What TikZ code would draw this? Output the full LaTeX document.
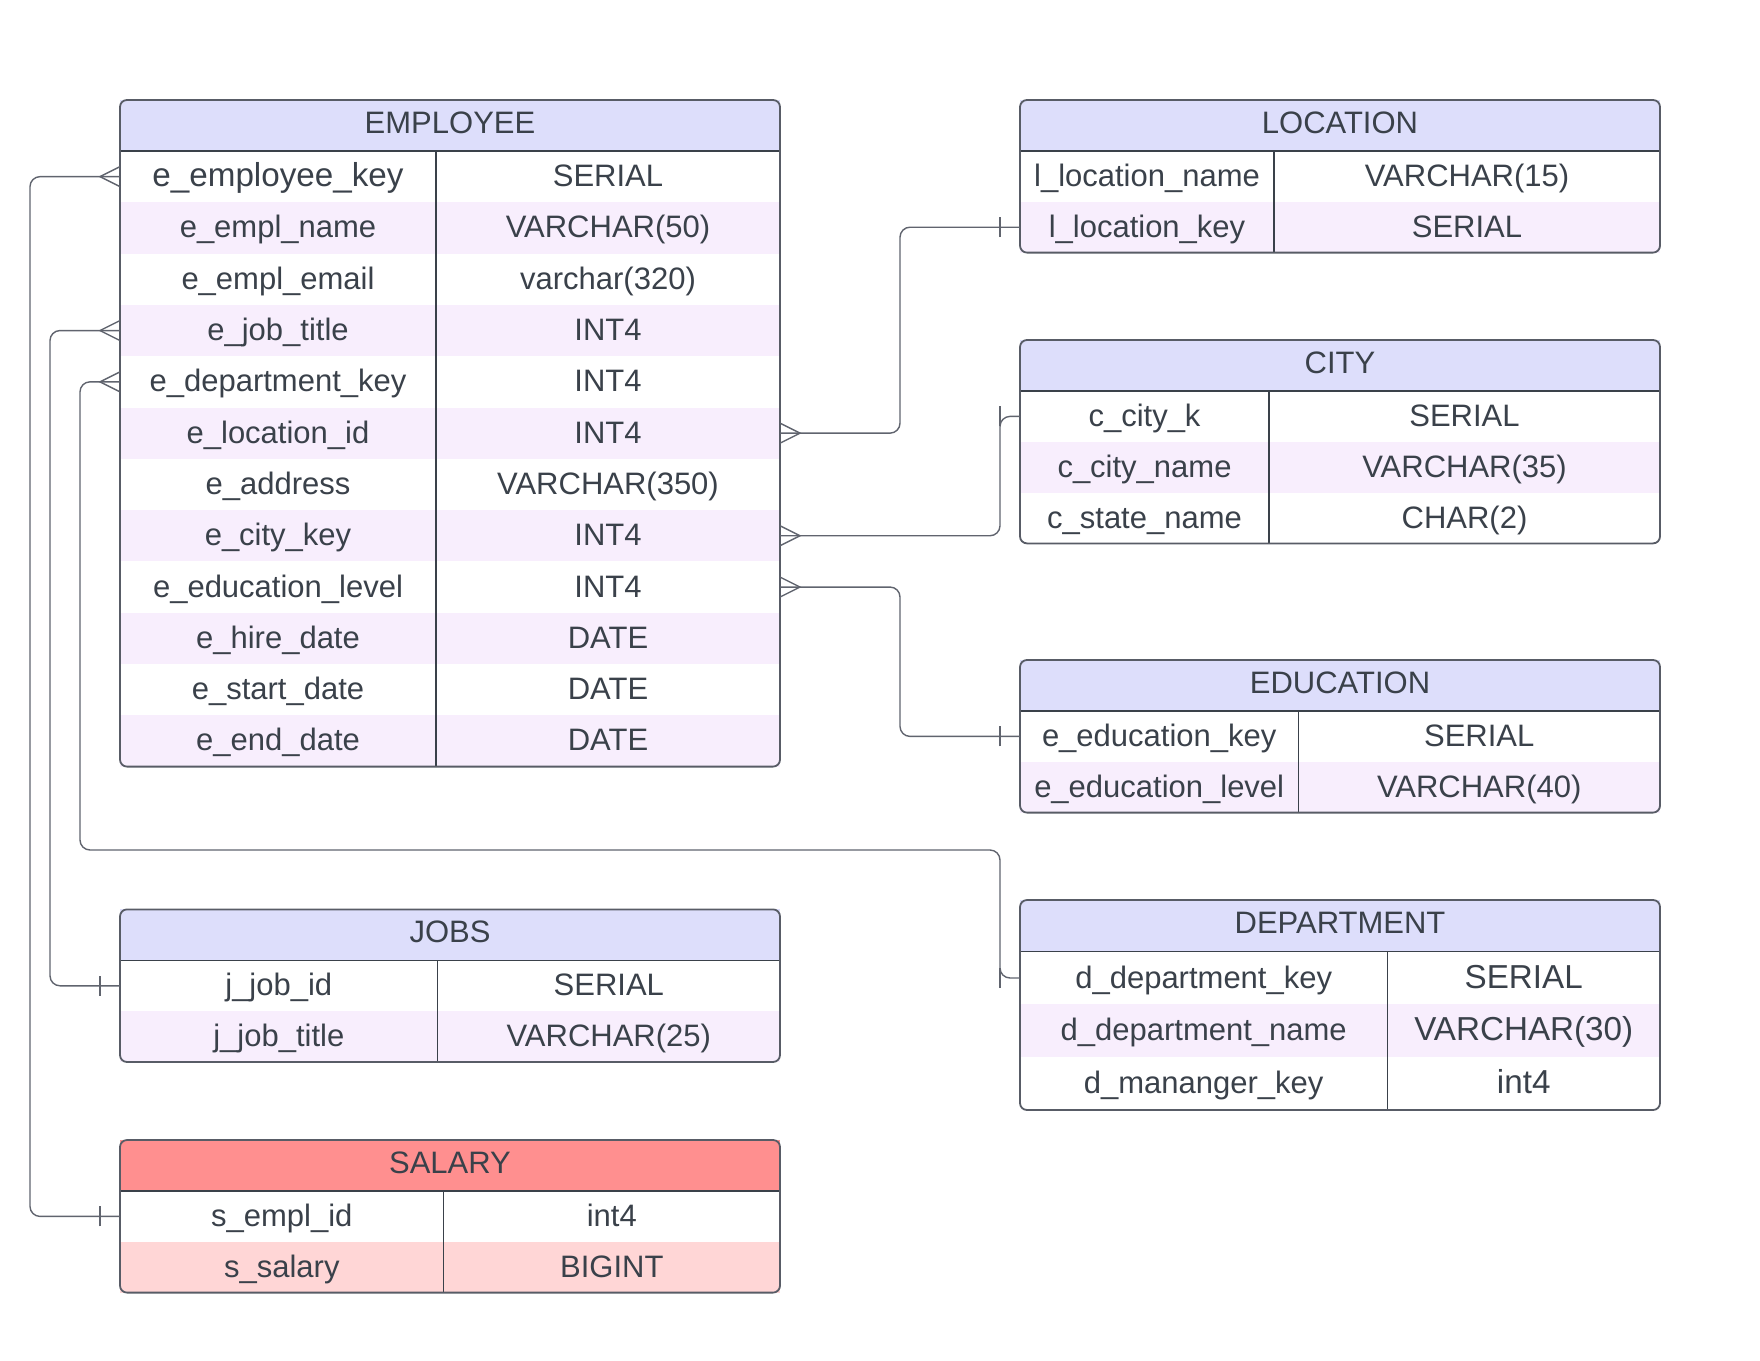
\documentclass[tikz,border=0pt]{standalone}
\usepackage{fontspec}
\setmainfont{Liberation Sans}
\definecolor{hdblue}{RGB}{221,222,251}
\definecolor{rowtint}{RGB}{248,238,253}
\definecolor{salhead}{RGB}{255,143,143}
\definecolor{saltint}{RGB}{255,214,214}
\definecolor{ink}{RGB}{58,65,74}
\definecolor{edge}{RGB}{88,92,102}
\definecolor{wire}{RGB}{96,100,110}
\newcommand{\cellfont}{\fontsize{15.5pt}{18pt}\selectfont}
\newcommand{\bigcellfont}{\fontsize{16.6pt}{19pt}\selectfont}
\tikzset{
  fieldcell/.style={anchor=north west, inner sep=0pt, outer sep=0pt, minimum height=25.4pt, minimum width=#1, text=ink, font=\cellfont, fill=white, text height=12.5pt, text depth=2.5pt},
  typecell/.style={fieldcell=#1},
  tablehead/.style={fieldcell=#1, fill=hdblue, minimum height=25.5pt, text height=11.5pt, text depth=3.5pt},
  pinkrow/.style={fill=rowtint},
  frame/.style={draw=edge, line width=0.9pt, rounded corners=3.5pt},
  rule/.style={draw=ink, line width=0.6pt},
  link/.style={draw=wire, line width=0.7pt, rounded corners=5pt},
  erdmark/.style={draw=wire, line width=0.7pt},
  crowfoot/.pic={\draw[erdmark] (0,-5) -- (10,0) -- (0,5);},
  onebar/.pic={\draw[erdmark] (-10,-5) -- (-10,5);}
}
\begin{document}
\begin{tikzpicture}[x=1pt,y=1pt,yscale=-1]
\useasboundingbox (0,0) rectangle (880,680);

%Table: EMPLOYEE
\begin{scope}[fieldcell/.append style={minimum height=25.65pt}]
\node[tablehead=330pt] (emp-hd) at (60,50) {EMPLOYEE};
\node[fieldcell=158pt, font=\bigcellfont] (emp-1) at (emp-hd.south west) {e\_employee\_key};
\node[typecell=172pt] (emp-1t) at (emp-1.north east) {SERIAL};
\node[fieldcell=158pt, pinkrow] (emp-2) at (emp-1.south west) {e\_empl\_name};
\node[typecell=172pt, pinkrow] (emp-2t) at (emp-2.north east) {VARCHAR(50)};
\node[fieldcell=158pt] (emp-3) at (emp-2.south west) {e\_empl\_email};
\node[typecell=172pt] (emp-3t) at (emp-3.north east) {varchar(320)};
\node[fieldcell=158pt, pinkrow] (emp-4) at (emp-3.south west) {e\_job\_title};
\node[typecell=172pt, pinkrow] (emp-4t) at (emp-4.north east) {INT4};
\node[fieldcell=158pt] (emp-5) at (emp-4.south west) {e\_department\_key};
\node[typecell=172pt] (emp-5t) at (emp-5.north east) {INT4};
\node[fieldcell=158pt, pinkrow] (emp-6) at (emp-5.south west) {e\_location\_id};
\node[typecell=172pt, pinkrow] (emp-6t) at (emp-6.north east) {INT4};
\node[fieldcell=158pt] (emp-7) at (emp-6.south west) {e\_address};
\node[typecell=172pt] (emp-7t) at (emp-7.north east) {VARCHAR(350)};
\node[fieldcell=158pt, pinkrow] (emp-8) at (emp-7.south west) {e\_city\_key};
\node[typecell=172pt, pinkrow] (emp-8t) at (emp-8.north east) {INT4};
\node[fieldcell=158pt] (emp-9) at (emp-8.south west) {e\_education\_level};
\node[typecell=172pt] (emp-9t) at (emp-9.north east) {INT4};
\node[fieldcell=158pt, pinkrow] (emp-10) at (emp-9.south west) {e\_hire\_date};
\node[typecell=172pt, pinkrow] (emp-10t) at (emp-10.north east) {DATE};
\node[fieldcell=158pt] (emp-11) at (emp-10.south west) {e\_start\_date};
\node[typecell=172pt] (emp-11t) at (emp-11.north east) {DATE};
\node[fieldcell=158pt, pinkrow] (emp-12) at (emp-11.south west) {e\_end\_date};
\node[typecell=172pt, pinkrow] (emp-12t) at (emp-12.north east) {DATE};
\end{scope}
\draw[rule] (emp-hd.south west) -- (emp-hd.south east);
\draw[rule] (emp-1.north east) -- (emp-12.south east);
\draw[frame] (emp-hd.north west) rectangle (emp-12t.south east);

%Table: LOCATION
\node[tablehead=320pt] (loc-hd) at (510,50) {LOCATION};
\node[fieldcell=127pt] (loc-1) at (loc-hd.south west) {l\_location\_name};
\node[typecell=193pt] (loc-1t) at (loc-1.north east) {VARCHAR(15)};
\node[fieldcell=127pt, pinkrow] (loc-2) at (loc-1.south west) {l\_location\_key};
\node[typecell=193pt, pinkrow] (loc-2t) at (loc-2.north east) {SERIAL};
\draw[rule] (loc-hd.south west) -- (loc-hd.south east);
\draw[rule] (loc-1.north east) -- (loc-2.south east);
\draw[frame] (loc-hd.north west) rectangle (loc-2t.south east);

%Table: CITY
\node[tablehead=320pt] (city-hd) at (510,170) {CITY};
\node[fieldcell=124.5pt] (city-1) at (city-hd.south west) {c\_city\_k};
\node[typecell=195.5pt] (city-1t) at (city-1.north east) {SERIAL};
\node[fieldcell=124.5pt, pinkrow] (city-2) at (city-1.south west) {c\_city\_name};
\node[typecell=195.5pt, pinkrow] (city-2t) at (city-2.north east) {VARCHAR(35)};
\node[fieldcell=124.5pt] (city-3) at (city-2.south west) {c\_state\_name};
\node[typecell=195.5pt] (city-3t) at (city-3.north east) {CHAR(2)};
\draw[rule] (city-hd.south west) -- (city-hd.south east);
\draw[rule] (city-1.north east) -- (city-3.south east);
\draw[frame] (city-hd.north west) rectangle (city-3t.south east);

%Table: EDUCATION
\node[tablehead=320pt] (edu-hd) at (510,330) {EDUCATION};
\node[fieldcell=139.2pt] (edu-1) at (edu-hd.south west) {e\_education\_key};
\node[typecell=180.8pt] (edu-1t) at (edu-1.north east) {SERIAL};
\node[fieldcell=139.2pt, pinkrow] (edu-2) at (edu-1.south west) {e\_education\_level};
\node[typecell=180.8pt, pinkrow] (edu-2t) at (edu-2.north east) {VARCHAR(40)};
\draw[rule] (edu-hd.south west) -- (edu-hd.south east);
\draw[rule] (edu-1.north east) -- (edu-2.south east);
\draw[frame] (edu-hd.north west) rectangle (edu-2t.south east);

%Table: DEPARTMENT
\begin{scope}[fieldcell/.append style={minimum height=26.4pt}]
\node[tablehead=320pt, minimum height=25.8pt] (dep-hd) at (510,450) {DEPARTMENT};
\node[fieldcell=183.7pt] (dep-1) at (dep-hd.south west) {d\_department\_key};
\node[typecell=136.3pt, font=\bigcellfont] (dep-1t) at (dep-1.north east) {SERIAL};
\node[fieldcell=183.7pt, pinkrow] (dep-2) at (dep-1.south west) {d\_department\_name};
\node[typecell=136.3pt, pinkrow, font=\bigcellfont] (dep-2t) at (dep-2.north east) {VARCHAR(30)};
\node[fieldcell=183.7pt] (dep-3) at (dep-2.south west) {d\_mananger\_key};
\node[typecell=136.3pt, font=\bigcellfont] (dep-3t) at (dep-3.north east) {int4};
\end{scope}
\draw[rule] (dep-hd.south west) -- (dep-hd.south east);
\draw[rule] (dep-1.north east) -- (dep-3.south east);
\draw[frame] (dep-hd.north west) rectangle (dep-3t.south east);

%Table: JOBS
\node[tablehead=330pt] (job-hd) at (60,454.7) {JOBS};
\node[fieldcell=158.8pt] (job-1) at (job-hd.south west) {j\_job\_id};
\node[typecell=171.2pt] (job-1t) at (job-1.north east) {SERIAL};
\node[fieldcell=158.8pt, pinkrow] (job-2) at (job-1.south west) {j\_job\_title};
\node[typecell=171.2pt, pinkrow] (job-2t) at (job-2.north east) {VARCHAR(25)};
\draw[rule] (job-hd.south west) -- (job-hd.south east);
\draw[rule] (job-1.north east) -- (job-2.south east);
\draw[frame] (job-hd.north west) rectangle (job-2t.south east);

%Table: SALARY
\node[tablehead=330pt, fill=salhead] (sal-hd) at (60,570) {SALARY};
\node[fieldcell=161.8pt] (sal-1) at (sal-hd.south west) {s\_empl\_id};
\node[typecell=168.2pt] (sal-1t) at (sal-1.north east) {int4};
\node[fieldcell=161.8pt, fill=saltint] (sal-2) at (sal-1.south west) {s\_salary};
\node[typecell=168.2pt, fill=saltint] (sal-2t) at (sal-2.north east) {BIGINT};
\draw[rule] (sal-hd.south west) -- (sal-hd.south east);
\draw[rule] (sal-1.north east) -- (sal-2.south east);
\draw[frame] (sal-hd.north west) rectangle (sal-2t.south east);

%Relations, left side
\draw[link] (emp-1.west) -- ++(-45,0) |- (sal-1.west);
\pic[rotate=180] at (emp-1.west) {crowfoot};
\pic at (sal-1.west) {onebar};

\draw[link] (emp-4.west) -- ++(-35,0) |- (job-1.west);
\pic[rotate=180] at (emp-4.west) {crowfoot};
\pic at (job-1.west) {onebar};

\coordinate (dep-bend) at (40,425);
\draw[link] (emp-5.west) -| (dep-bend) -| ([xshift=-10pt]dep-1.west) -- (dep-1.west);
\pic[rotate=180] at (emp-5.west) {crowfoot};
\pic at (dep-1.west) {onebar};

%Relations, right side
\draw[link] (emp-6t.east) -- ++(60,0) |- (loc-2.west);
\pic at (emp-6t.east) {crowfoot};
\pic at (loc-2.west) {onebar};

\draw[link] (emp-8t.east) -- ++(110,0) |- (city-1.west);
\pic at (emp-8t.east) {crowfoot};
\pic at (city-1.west) {onebar};

\draw[link] (emp-9t.east) -- ++(60,0) |- (edu-1.west);
\pic at (emp-9t.east) {crowfoot};
\pic at (edu-1.west) {onebar};

\end{tikzpicture}
\end{document}
